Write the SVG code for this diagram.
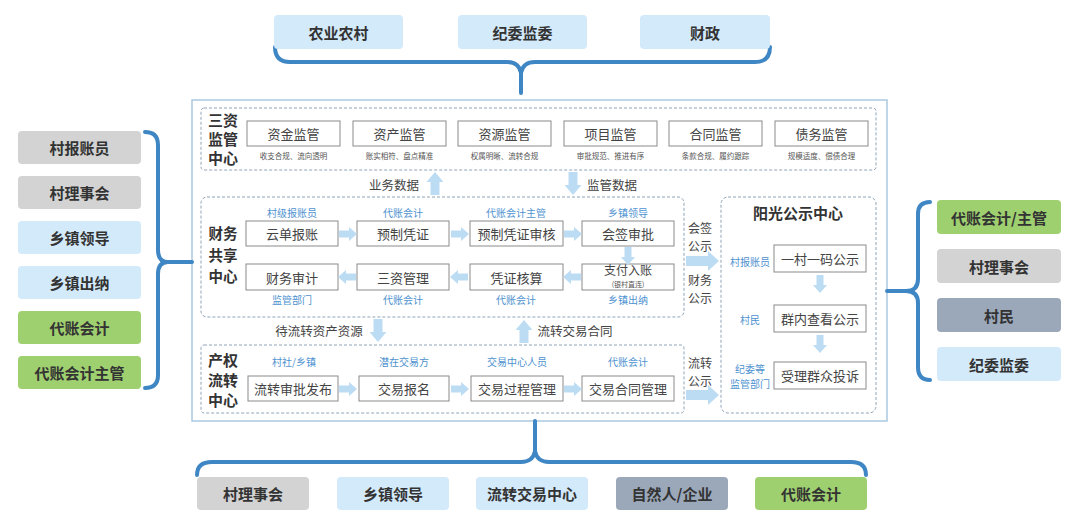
<svg xmlns="http://www.w3.org/2000/svg" width="1080" height="526" viewBox="0 0 1080 526">
<style>
text{font-family:"Noto Sans CJK SC","Noto Sans",sans-serif;}
.pill{stroke:none;}
.gray{fill:#d3d3d3;}
.blue{fill:#d3eafb;}
.green{fill:#9fd06f;}
.slate{fill:#9ba8ba;}
.pt{font-size:15px;font-weight:700;fill:#333;text-anchor:middle;dominant-baseline:central;}
.brace{fill:none;stroke:#3f86c4;stroke-width:4;stroke-linecap:round;}
.dash{fill:none;stroke:#8ea4b8;stroke-width:1;stroke-dasharray:3 2;}
.box{fill:#fff;stroke:#8a8a8a;stroke-width:1;}
.bt{font-size:13px;fill:#444;text-anchor:middle;dominant-baseline:central;}
.st{font-size:7.5px;fill:#555;text-anchor:middle;dominant-baseline:central;}
.role{font-size:10px;fill:#4e92d0;text-anchor:middle;dominant-baseline:central;}
.sec{font-size:15px;font-weight:700;fill:#333;text-anchor:middle;}
.ft{font-size:12.5px;fill:#444;text-anchor:middle;dominant-baseline:central;}
.fl{font-size:12px;fill:#444;text-anchor:middle;}
.arr{fill:#bcdcf4;}
</style>
<defs>
<path id="a" d="M0,-3.5 H10 V-7 L18,0 L10,7 V3.5 H0 Z"/>
<path id="av" d="M0,-4.5 H13 V-8.5 L23,0 L13,8.5 V4.5 H0 Z"/>
<path id="ab" d="M0,-5 H22 V-10 L33,0 L22,10 V5 H0 Z"/>
</defs>

<!-- outer panel -->
<rect x="192" y="100" width="695" height="321" fill="#fff" stroke="#a9c9df" stroke-width="1.5"/>

<!-- braces -->
<g id="braces">
<path class="brace" d="M275,47 Q275,62 290,62 H507 Q519,62 521,73 Q523,62 535,62 H755 Q770,62 770,47 M521,72 V93"/>
<path class="brace" d="M145,132 Q158,132 158,145 V250 Q158,262 168,262 Q158,262 158,274 V375 Q158,388 145,388 M167,262 H192"/>
<path class="brace" d="M930,202 Q918,202 918,214 V279 Q918,291 906,291 Q918,291 918,303 V367 Q918,380 930,380 M907,291 H887"/>
<path class="brace" d="M197,475 Q197,462 212,462 H521 Q533,462 535,451 Q537,462 549,462 H851 Q866,462 866,475 M535,452 V421"/>
</g>

<!-- top nodes -->
<g id="top-nongye"><rect class="pill blue" x="274" y="15" width="129" height="34" rx="4"/><text class="pt" x="338.5" y="32">农业农村</text></g>
<g id="top-jiwei"><rect class="pill blue" x="458" y="15" width="129" height="34" rx="4"/><text class="pt" x="522.5" y="32">纪委监委</text></g>
<g id="top-caizheng"><rect class="pill blue" x="640" y="15" width="130" height="34" rx="4"/><text class="pt" x="705" y="32">财政</text></g>

<!-- left nodes -->
<g id="l-1"><rect class="pill gray" x="18" y="131" width="123" height="33" rx="4"/><text class="pt" x="79.5" y="147.5">村报账员</text></g>
<g id="l-2"><rect class="pill gray" x="18" y="176" width="123" height="33" rx="4"/><text class="pt" x="79.5" y="192.5">村理事会</text></g>
<g id="l-3"><rect class="pill blue" x="18" y="221" width="123" height="33" rx="4"/><text class="pt" x="79.5" y="237.5">乡镇领导</text></g>
<g id="l-4"><rect class="pill blue" x="18" y="266" width="123" height="33" rx="4"/><text class="pt" x="79.5" y="282.5">乡镇出纳</text></g>
<g id="l-5"><rect class="pill green" x="18" y="311" width="123" height="33" rx="4"/><text class="pt" x="79.5" y="327.5">代账会计</text></g>
<g id="l-6"><rect class="pill green" x="18" y="356" width="123" height="33" rx="4"/><text class="pt" x="79.5" y="372.5">代账会计主管</text></g>

<!-- right nodes -->
<g id="r-1"><rect class="pill green" x="937" y="200" width="124" height="34" rx="4"/><text class="pt" x="999" y="217">代账会计/主管</text></g>
<g id="r-2"><rect class="pill gray" x="937" y="249" width="124" height="34" rx="4"/><text class="pt" x="999" y="266">村理事会</text></g>
<g id="r-3"><rect class="pill slate" x="937" y="298" width="124" height="34" rx="4"/><text class="pt" x="999" y="315">村民</text></g>
<g id="r-4"><rect class="pill blue" x="937" y="347" width="124" height="34" rx="4"/><text class="pt" x="999" y="364">纪委监委</text></g>

<!-- bottom nodes -->
<g id="b-1"><rect class="pill gray" x="197" y="477" width="112" height="33" rx="4"/><text class="pt" x="253" y="493.5">村理事会</text></g>
<g id="b-2"><rect class="pill blue" x="337" y="477" width="112" height="33" rx="4"/><text class="pt" x="393" y="493.5">乡镇领导</text></g>
<g id="b-3"><rect class="pill blue" x="476" y="477" width="112" height="33" rx="4"/><text class="pt" x="532" y="493.5">流转交易中心</text></g>
<g id="b-4"><rect class="pill slate" x="616" y="477" width="112" height="33" rx="4"/><text class="pt" x="672" y="493.5">自然人/企业</text></g>
<g id="b-5"><rect class="pill green" x="755" y="477" width="112" height="33" rx="4"/><text class="pt" x="811" y="493.5">代账会计</text></g>

<!-- 三资监管中心 -->
<g id="sanzi">
<rect class="dash" x="201" y="108" width="675" height="62" rx="3"/>
<text class="sec" x="223" y="126"><tspan x="223">三资</tspan><tspan x="223" dy="19">监管</tspan><tspan x="223" dy="19">中心</tspan></text>
<rect class="box" x="247" y="121" width="93" height="25"/><text class="bt" x="293.5" y="133.5">资金监管</text><text class="st" x="293.5" y="155">收支合规、流向透明</text>
<rect class="box" x="353" y="121" width="93" height="25"/><text class="bt" x="399.5" y="133.5">资产监管</text><text class="st" x="399.5" y="155">账实相符、盘点精准</text>
<rect class="box" x="458" y="121" width="93" height="25"/><text class="bt" x="504.5" y="133.5">资源监管</text><text class="st" x="504.5" y="155">权属明晰、流转合规</text>
<rect class="box" x="564" y="121" width="93" height="25"/><text class="bt" x="610.5" y="133.5">项目监管</text><text class="st" x="610.5" y="155">审批规范、推进有序</text>
<rect class="box" x="669" y="121" width="93" height="25"/><text class="bt" x="715.5" y="133.5">合同监管</text><text class="st" x="715.5" y="155">条款合规、履约跟踪</text>
<rect class="box" x="775" y="121" width="93" height="25"/><text class="bt" x="821.5" y="133.5">债务监管</text><text class="st" x="821.5" y="155">规模适度、偿债合理</text>
</g>

<!-- 财务共享中心 -->
<g id="caiwu">
<rect class="dash" x="201" y="197" width="483" height="120" rx="6"/>
<text class="sec" x="223" y="239" style="font-size:14.5px"><tspan x="223">财务</tspan><tspan x="223" dy="21.5">共享</tspan><tspan x="223" dy="21.5">中心</tspan></text>
<text class="role" x="292" y="212">村级报账员</text>
<text class="role" x="403" y="212">代账会计</text>
<text class="role" x="516" y="212">代账会计主管</text>
<text class="role" x="628" y="212">乡镇领导</text>
<rect class="box" x="246" y="221" width="92" height="25"/><text class="bt" x="292" y="233.5">云单报账</text>
<rect class="box" x="357" y="221" width="92" height="25"/><text class="bt" x="403" y="233.5">预制凭证</text>
<rect class="box" x="470" y="221" width="93" height="25"/><text class="bt" x="516.5" y="233.5">预制凭证审核</text>
<rect class="box" x="582" y="221" width="92" height="25"/><text class="bt" x="628" y="233.5">会签审批</text>
<rect class="box" x="246" y="264" width="92" height="26"/><text class="bt" x="292" y="277">财务审计</text>
<rect class="box" x="357" y="264" width="92" height="26"/><text class="bt" x="403" y="277">三资管理</text>
<rect class="box" x="470" y="264" width="93" height="26"/><text class="bt" x="516.5" y="277">凭证核算</text>
<rect class="box" x="582" y="264" width="92" height="26"/><text x="628" y="275" text-anchor="middle" fill="#444" font-size="12"><tspan x="628">支付入账</tspan><tspan x="628" dy="12" font-size="7" fill="#555">(银村直连)</tspan></text>
<text class="role" x="292" y="299">监管部门</text>
<text class="role" x="403" y="299">代账会计</text>
<text class="role" x="516" y="299">代账会计</text>
<text class="role" x="628" y="299">乡镇出纳</text>
</g>

<!-- 产权流转中心 -->
<g id="chanquan">
<rect class="dash" x="201" y="345" width="483" height="68" rx="3"/>
<text class="sec" x="223" y="366"><tspan x="223">产权</tspan><tspan x="223" dy="20">流转</tspan><tspan x="223" dy="20">中心</tspan></text>
<text class="role" x="294" y="361">村社/乡镇</text>
<text class="role" x="404" y="361">潜在交易方</text>
<text class="role" x="517" y="361">交易中心人员</text>
<text class="role" x="628" y="361">代账会计</text>
<rect class="box" x="248" y="376" width="90" height="25"/><text class="bt" x="293" y="388.5">流转审批发布</text>
<rect class="box" x="359" y="376" width="90" height="25"/><text class="bt" x="404" y="388.5">交易报名</text>
<rect class="box" x="471" y="376" width="92" height="25"/><text class="bt" x="517" y="388.5">交易过程管理</text>
<rect class="box" x="582" y="376" width="92" height="25"/><text class="bt" x="628" y="388.5">交易合同管理</text>
</g>

<!-- 阳光公示中心 -->
<g id="yangguang">
<rect class="dash" x="721" y="197" width="155" height="216" rx="7"/>
<text class="sec" x="798" y="219">阳光公示中心</text>
<rect class="box" x="774" y="245" width="92" height="27"/><text class="bt" x="820" y="258.5">一村一码公示</text>
<rect class="box" x="774" y="305" width="92" height="27"/><text class="bt" x="820" y="318.5">群内查看公示</text>
<rect class="box" x="774" y="362" width="92" height="27"/><text class="bt" x="820" y="375.5">受理群众投诉</text>
<text class="role" x="750" y="261">村报账员</text>
<text class="role" x="750" y="319">村民</text>
<text x="750" y="373" text-anchor="middle" font-size="10" fill="#4e92d0"><tspan x="750">纪委等</tspan><tspan x="750" dy="14.5">监管部门</tspan></text>
</g>

<!-- connectors -->
<g id="connectors">
<use href="#a" class="arr" transform="translate(339,234)"/>
<use href="#a" class="arr" transform="translate(451,234)"/>
<use href="#a" class="arr" transform="translate(564,234)"/>
<use href="#a" class="arr" transform="translate(628,247) rotate(90)"/>
<use href="#a" class="arr" transform="translate(581,277) rotate(180)"/>
<use href="#a" class="arr" transform="translate(468,277) rotate(180)"/>
<use href="#a" class="arr" transform="translate(356,277) rotate(180)"/>
<use href="#a" class="arr" transform="translate(339,389)"/>
<use href="#a" class="arr" transform="translate(451,389)"/>
<use href="#a" class="arr" transform="translate(564,389)"/>
<use href="#a" class="arr" transform="translate(820,275) rotate(90)"/>
<use href="#a" class="arr" transform="translate(820,335) rotate(90)"/>
<use href="#av" class="arr" transform="translate(435,195) rotate(-90)"/>
<use href="#av" class="arr" transform="translate(573,172) rotate(90)"/>
<use href="#av" class="arr" transform="translate(378,319) rotate(90)"/>
<use href="#av" class="arr" transform="translate(524,343) rotate(-90)"/>
<use href="#ab" class="arr" transform="translate(686,261)"/>
<use href="#ab" class="arr" transform="translate(686,395)"/>
<text class="ft" x="394" y="184">业务数据</text>
<text class="ft" x="612" y="184">监管数据</text>
<text class="ft" x="319" y="330">待流转资产资源</text>
<text class="ft" x="575" y="330">流转交易合同</text>
<text class="fl" x="700" y="233"><tspan x="700">会签</tspan><tspan x="700" dy="17.5">公示</tspan></text>
<text class="fl" x="700" y="285"><tspan x="700">财务</tspan><tspan x="700" dy="17.5">公示</tspan></text>
<text class="fl" x="700" y="368"><tspan x="700">流转</tspan><tspan x="700" dy="17.5">公示</tspan></text>
</g>
</svg>
